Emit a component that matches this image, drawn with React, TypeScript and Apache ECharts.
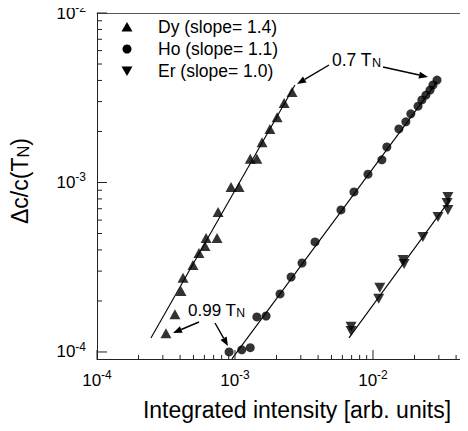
import React, { useEffect, useRef } from "react";
import * as echarts from "echarts";

// ---- data ----
const DY_POINTS: [number, number][] = [
  [3.16e-4, 1.29e-4], [3.67e-4, 1.67e-4], [4.06e-4, 2.29e-4], [4.2e-4, 2.74e-4],
  [4.96e-4, 3.26e-4], [5.48e-4, 3.84e-4], [6.06e-4, 4.22e-4], [6.17e-4, 4.71e-4],
  [7.41e-4, 4.71e-4], [7.54e-4, 6.7e-4], [9.36e-4, 9.39e-4], [1.07e-3, 9.39e-4],
  [1.29e-3, 1.38e-3], [1.44e-3, 1.38e-3], [1.57e-3, 1.73e-3], [1.79e-3, 2.07e-3],
  [2.02e-3, 2.43e-3], [2.27e-3, 2.94e-3], [2.59e-3, 3.42e-3],
];
const HO_POINTS: [number, number][] = [
  [9.06e-4, 1.0e-4], [1.12e-3, 1.03e-4], [1.29e-3, 1.06e-4], [1.44e-3, 1.61e-4],
  [1.68e-3, 1.63e-4], [2.12e-3, 2.2e-4], [2.55e-3, 2.77e-4], [3.06e-3, 3.35e-4],
  [3.8e-3, 4.46e-4], [5.86e-3, 6.89e-4], [7.28e-3, 8.8e-4], [9.2e-3, 1.12e-3],
  [1.16e-2, 1.36e-3], [1.26e-2, 1.62e-3], [1.54e-2, 2.07e-3], [1.73e-2, 2.28e-3],
  [1.88e-2, 2.54e-3], [2.12e-2, 2.82e-3], [2.26e-2, 3.07e-3], [2.42e-2, 3.28e-3],
  [2.59e-2, 3.51e-3], [2.72e-2, 3.76e-3], [2.91e-2, 4.02e-3],
];
const ER_POINTS: [number, number][] = [
  [6.93e-3, 1.41e-4], [6.93e-3, 1.33e-4], [1.12e-2, 2.39e-4], [1.1e-2, 2.06e-4],
  [1.65e-2, 3.49e-4], [1.68e-2, 3.3e-4], [2.3e-2, 4.77e-4], [2.96e-2, 6.25e-4],
  [3.44e-2, 7.57e-4], [3.49e-2, 6.89e-4], [3.49e-2, 8.2e-4],
];
const DY_FIT: [number, number][] = [[2.46e-4, 1.21e-4], [2.72e-3, 3.76e-3]];
const HO_FIT: [number, number][] = [[9.5e-4, 9.1e-5], [2.91e-2, 3.92e-3]];
const ER_FIT: [number, number][] = [[6.7e-3, 1.21e-4], [3.61e-2, 7.89e-4]];

const SERIES_NAMES = ["Dy (slope= 1.4)", "Ho (slope= 1.1)", "Er (slope= 1.0)"];
const X_TITLE = "Integrated intensity [arb. units]";
const Y_TITLE = "\u0394c/c(T{sub|N})";
const ANNOT_HIGH = "0.7 T{sub|N}";
const ANNOT_LOW = "0.99 T{sub|N}";

const X_MIN = 1e-4;
const X_MAX = 0.0488;
const Y_MIN = 9.09e-5;
const Y_MAX = 1e-2;

// tick positions: majors at decades, minors at 2..9 x decade
function buildTicks(min: number, max: number, majorLen: number, minorLen: number) {
  const out: number[][] = [];
  for (let e = -5; e <= 0; e++) {
    for (let k = 1; k <= 9; k++) {
      const v = k * Math.pow(10, e);
      if (v >= min * 0.999 && v <= max * 1.001) out.push([v, k === 1 ? majorLen : minorLen]);
    }
  }
  return out;
}
const X_TICKS = buildTicks(X_MIN, X_MAX, 9, 4);
const Y_TICKS = buildTicks(Y_MIN, Y_MAX, 10, 5);

const FONT = "'Liberation Sans', Arial, Helvetica, sans-serif";
const INK = "#000";
const DOWN_TRI = "path://M0,0L10,0L5,9Z";

function arrow(x1: number, y1: number, x2: number, y2: number) {
  const dx = x2 - x1, dy = y2 - y1;
  const L = Math.sqrt(dx * dx + dy * dy);
  const ux = dx / L, uy = dy / L;
  const hl = 9, hw = 3.5;
  const bx = x2 - ux * hl, by = y2 - uy * hl;
  return [
    { type: "line", shape: { x1, y1, x2: bx, y2: by }, style: { stroke: INK, lineWidth: 1.4 } },
    {
      type: "polygon",
      shape: { points: [[x2, y2], [bx - uy * hw, by + ux * hw], [bx + uy * hw, by - ux * hw]] },
      style: { fill: INK },
    },
  ];
}

// legend drawn as graphic: marker + text per row
function legendRow(i: number, marker: "up" | "circle" | "down") {
  const cx = 127;
  const cy = 27 + i * 22;
  let m: any;
  if (marker === "circle") {
    m = { type: "circle", shape: { cx, cy, r: 4.5 }, style: { fill: INK } };
  } else if (marker === "up") {
    m = { type: "polygon", shape: { points: [[cx, cy - 5], [cx + 5.5, cy + 4.5], [cx - 5.5, cy + 4.5]] }, style: { fill: INK } };
  } else {
    m = { type: "polygon", shape: { points: [[cx - 5.5, cy - 4.5], [cx + 5.5, cy - 4.5], [cx, cy + 5]] }, style: { fill: INK } };
  }
  return [
    m,
    {
      type: "text",
      x: 158,
      y: cy,
      style: { text: SERIES_NAMES[i], fontFamily: FONT, fontSize: 17.5, fill: INK, align: "left", verticalAlign: "middle" },
    },
  ];
}

const supRich = {
  b: { fontSize: 17, lineHeight: 22, fontFamily: FONT, color: INK },
  s: { fontSize: 12, lineHeight: 12, verticalAlign: "top", fontFamily: FONT, color: INK },
};
const subRich = (size: number) => ({
  sub: { fontSize: size * 0.72, lineHeight: size * 0.75, verticalAlign: "bottom", fontFamily: FONT, color: INK },
});

function decadeLabel(v: number) {
  const e = Math.log10(v);
  const r = Math.round(e);
  if (Math.abs(e - r) > 1e-6) return "";
  return `{b|10}{s|${r}}`;
}

export default function App() {
  const ref = useRef<HTMLDivElement>(null);
  useEffect(() => {
    if (!ref.current) return;
    const chart = echarts.init(ref.current, null, { renderer: "svg" });
    const tickSeries = (axis: "x" | "y") => ({
      type: "custom",
      silent: true,
      xAxisIndex: 0,
      yAxisIndex: 0,
      z: 5,
      data: (axis === "x" ? X_TICKS : Y_TICKS).map((t) =>
        axis === "x" ? [t[0], Y_MIN, t[1]] : [X_MIN, t[0], t[1]]
      ),
      encode: { x: 0, y: 1 },
      renderItem: (_p: any, api: any) => {
        const len = api.value(2);
        const pt = api.coord([api.value(0), api.value(1)]);
        return axis === "x"
          ? { type: "line", shape: { x1: pt[0], y1: pt[1], x2: pt[0], y2: pt[1] - len }, style: { stroke: "#222", lineWidth: 1 } }
          : { type: "line", shape: { x1: pt[0], y1: pt[1], x2: pt[0] + len, y2: pt[1] }, style: { stroke: "#222", lineWidth: 1 } };
      },
    });
    const fit = (data: [number, number][]) => ({
      type: "line",
      data,
      symbol: "none",
      silent: true,
      lineStyle: { color: INK, width: 1.1 },
      z: 3,
    });
    const axisLabelBase = {
      formatter: decadeLabel,
      rich: supRich,
      fontSize: 17,
      fontFamily: FONT,
      color: INK,
    };
    chart.setOption({
      animation: false,
      backgroundColor: "#fff",
      grid: { left: 97, right: 0, top: 13, bottom: 72 },
      xAxis: [
        {
          type: "log",
          logBase: 10,
          min: X_MIN,
          max: X_MAX,
          axisLine: { lineStyle: { color: "#222", width: 1 } },
          axisTick: { show: false },
          splitLine: { show: false },
          axisLabel: { ...axisLabelBase, margin: 10, showMaxLabel: false },
        },
        {
          type: "log",
          logBase: 10,
          position: "top",
          min: X_MIN,
          max: X_MAX,
          axisLine: { show: true, lineStyle: { color: "#555", width: 1 } },
          axisTick: { show: false },
          axisLabel: { show: false },
          splitLine: { show: false },
        },
      ],
      yAxis: {
        type: "log",
        logBase: 10,
        min: Y_MIN,
        max: Y_MAX,
        axisLine: { show: true, lineStyle: { color: "#222", width: 1 } },
        axisTick: { show: false },
        splitLine: { show: false },
        axisLabel: { ...axisLabelBase, margin: 11, showMinLabel: false },
      },
      series: [
        {
          name: SERIES_NAMES[0],
          type: "scatter",
          data: DY_POINTS,
          symbol: "triangle",
          symbolSize: [11, 10],
          itemStyle: { color: INK },
          z: 4,
        },
        {
          name: SERIES_NAMES[1],
          type: "scatter",
          data: HO_POINTS,
          symbol: "circle",
          symbolSize: 9,
          itemStyle: { color: INK },
          z: 4,
        },
        {
          name: SERIES_NAMES[2],
          type: "scatter",
          data: ER_POINTS,
          symbol: DOWN_TRI,
          symbolSize: [11, 10],
          itemStyle: { color: INK },
          z: 4,
        },
        fit(DY_FIT),
        fit(HO_FIT),
        fit(ER_FIT),
        tickSeries("x"),
        tickSeries("y"),
      ],
      graphic: [
        ...legendRow(0, "up"),
        ...legendRow(1, "circle"),
        ...legendRow(2, "down"),
        {
          type: "text",
          x: 297,
          y: 410,
          style: { text: X_TITLE, fontFamily: FONT, fontSize: 23, fill: INK, align: "center", verticalAlign: "middle" },
        },
        {
          type: "text",
          x: 20,
          y: 181,
          rotation: Math.PI / 2,
          style: {
            text: Y_TITLE,
            fontFamily: FONT,
            fontSize: 23,
            fill: INK,
            align: "center",
            verticalAlign: "middle",
            rich: subRich(23),
          },
        },
        {
          type: "text",
          x: 332,
          y: 60,
          style: {
            text: ANNOT_HIGH,
            fontFamily: FONT,
            fontSize: 17.5,
            fill: INK,
            align: "left",
            verticalAlign: "middle",
            rich: subRich(17.5),
          },
        },
        {
          type: "text",
          x: 188,
          y: 310,
          style: {
            text: ANNOT_LOW,
            fontFamily: FONT,
            fontSize: 17,
            fill: INK,
            align: "left",
            verticalAlign: "middle",
            rich: subRich(17),
          },
        },
        ...arrow(329, 65, 297, 84),
        ...arrow(383, 67, 428, 77),
        ...arrow(199, 322, 173, 333),
        ...arrow(215, 323, 228, 346),
      ],
    });
    return () => chart.dispose();
  }, []);
  return <div ref={ref} style={{ width: 468, height: 431, margin: -8 }} />;
}
